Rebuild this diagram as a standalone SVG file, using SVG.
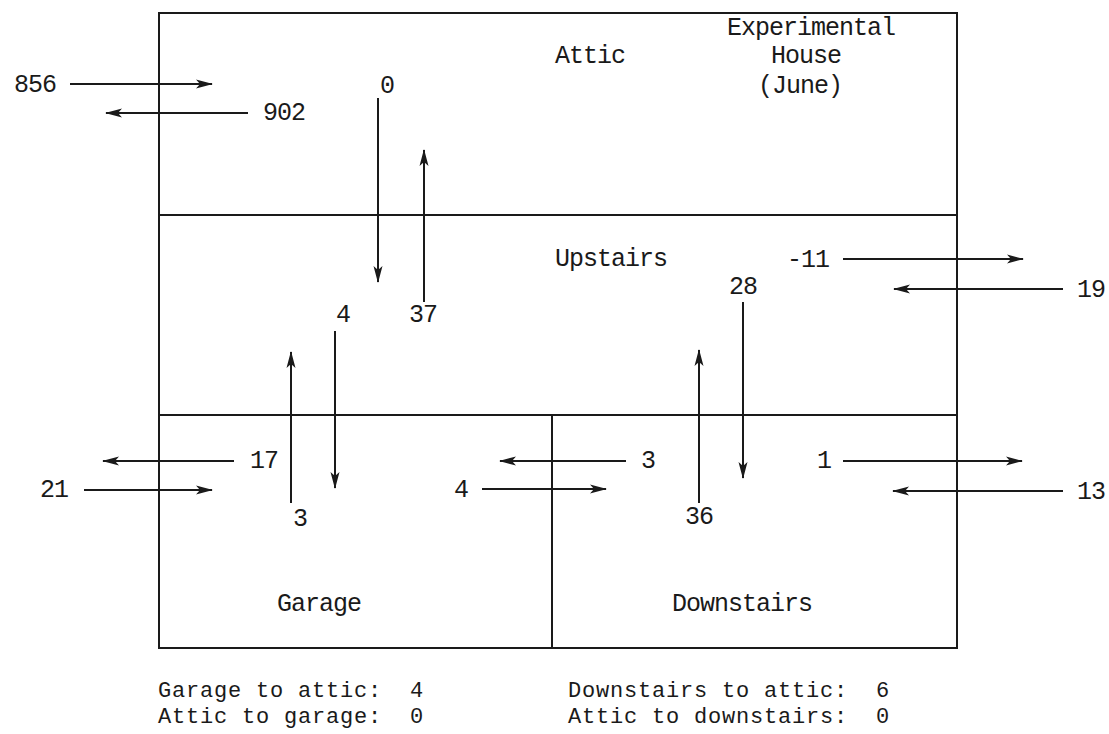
<svg xmlns="http://www.w3.org/2000/svg" width="1109" height="734" viewBox="0 0 1109 734">
<style>
text{font-family:"Liberation Mono","DejaVu Sans Mono",monospace;font-size:25px;letter-spacing:-1px;fill:#1a1a1a}
.sum{font-size:22px;letter-spacing:0.8px}
.room{fill:none;stroke:#1a1a1a;stroke-width:2}
.ar{stroke:#1a1a1a;stroke-width:2;fill:none;marker-end:url(#ah)}
</style>
<defs>
<marker id="ah" viewBox="0 0 17 10" refX="16" refY="5" markerWidth="17" markerHeight="10" markerUnits="userSpaceOnUse" orient="auto">
<path d="M0,0.5 L17,5 L0,9.5 L4,5 Z" fill="#1a1a1a"/>
</marker>
</defs>
<rect width="1109" height="734" fill="#fff"/>
<g id="attic">
<rect class="room" x="159" y="13" width="798" height="202"/>
<text x="555" y="63">Attic</text>
<text x="811" y="35" text-anchor="middle">Experimental</text>
<text x="806" y="63" text-anchor="middle">House</text>
<text x="800" y="93" text-anchor="middle">(June)</text>
</g>
<g id="upstairs">
<rect class="room" x="159" y="215" width="798" height="200"/>
<text x="555" y="266">Upstairs</text>
</g>
<g id="garage">
<rect class="room" x="159" y="415" width="393" height="233"/>
<text x="277" y="611">Garage</text>
</g>
<g id="downstairs">
<rect class="room" x="552" y="415" width="405" height="233"/>
<text x="672" y="611">Downstairs</text>
</g>
<g id="connectors">
<line class="ar" x1="70" y1="84" x2="212" y2="84"/>
<line class="ar" x1="248" y1="113" x2="106" y2="113"/>
<line class="ar" x1="378" y1="98" x2="378" y2="282"/>
<line class="ar" x1="424" y1="302" x2="424" y2="150"/>
<line class="ar" x1="335" y1="331" x2="335" y2="488"/>
<line class="ar" x1="291" y1="503" x2="291" y2="352"/>
<line class="ar" x1="843" y1="259" x2="1023" y2="259"/>
<line class="ar" x1="1063" y1="289" x2="894" y2="289"/>
<line class="ar" x1="743" y1="302" x2="743" y2="478"/>
<line class="ar" x1="699" y1="503" x2="699" y2="350"/>
<line class="ar" x1="234" y1="461" x2="103" y2="461"/>
<line class="ar" x1="84" y1="490" x2="212" y2="490"/>
<line class="ar" x1="626" y1="461" x2="500" y2="461"/>
<line class="ar" x1="482" y1="489" x2="606" y2="489"/>
<line class="ar" x1="843" y1="461" x2="1022" y2="461"/>
<line class="ar" x1="1063" y1="491" x2="893" y2="491"/>
</g>
<g id="labels">
<text x="14" y="92">856</text>
<text x="263" y="120">902</text>
<text x="380" y="93">0</text>
<text x="409" y="322">37</text>
<text x="336" y="322">4</text>
<text x="293" y="526">3</text>
<text x="787" y="267">-11</text>
<text x="1077" y="297">19</text>
<text x="729" y="294">28</text>
<text x="685" y="524">36</text>
<text x="250" y="468">17</text>
<text x="40" y="497">21</text>
<text x="641" y="468">3</text>
<text x="454" y="497">4</text>
<text x="817" y="468">1</text>
<text x="1077" y="499">13</text>
</g>
<g id="summary">
<text class="sum" x="158" y="697" xml:space="preserve">Garage to attic:  4</text>
<text class="sum" x="158" y="723" xml:space="preserve">Attic to garage:  0</text>
<text class="sum" x="568" y="697" xml:space="preserve">Downstairs to attic:  6</text>
<text class="sum" x="568" y="723" xml:space="preserve">Attic to downstairs:  0</text>
</g>
</svg>
